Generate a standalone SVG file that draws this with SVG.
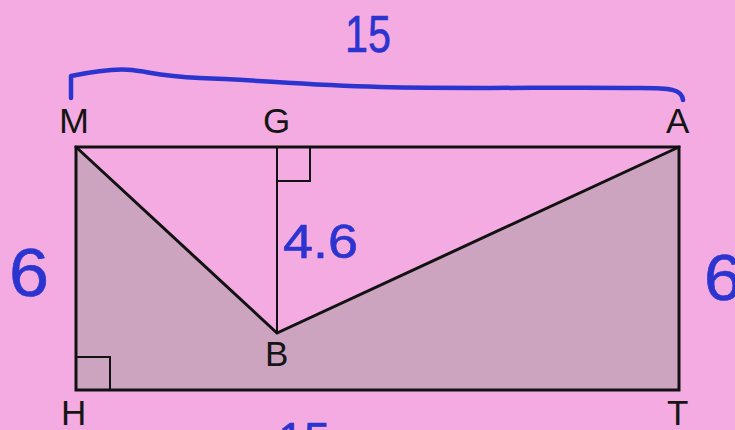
<svg xmlns="http://www.w3.org/2000/svg" width="735" height="430" viewBox="0 0 735 430">
  <style>
    .lbl { font-family: "Liberation Sans", Arial, sans-serif; font-size: 35px; fill: #151515; }
    .hand { font-family: "Liberation Sans", Arial, sans-serif; fill: #2c34d0; stroke: #2c34d0; stroke-width: 0.6; stroke-linejoin: round; }
    .edge { stroke: #121212; fill: none; stroke-linecap: round; stroke-linejoin: miter; }
  </style>
  <rect x="0" y="0" width="735" height="430" fill="#f4abe1"/>

  <g id="shade">
    <polygon points="76,147 277,333 679,147 679,390 76,390" fill="#cca4c0"/>
  </g>

  <g id="connectors">
    <rect class="edge" x="76" y="147" width="603" height="243" stroke-width="3"/>
    <polyline class="edge" points="76,147 277,333 679,147" stroke-width="3"/>
    <line class="edge" x1="277" y1="147" x2="277" y2="333" stroke-width="2"/>
    <polyline class="edge" points="277,181 310,181 310,147" stroke-width="2"/>
    <polyline class="edge" points="76,357 110,357 110,390" stroke-width="2"/>
    <path d="M71,98 L71,76 C90,72 115,68 132,70 C150,72 160,76 200,78 C260,80 300,85 380,87 C470,89 560,87 640,88 C670,88 682,89 683,100" fill="none" stroke="#2c34d0" stroke-width="4.5" stroke-linecap="round" stroke-linejoin="round"/>
  </g>

  <g id="node-M"><text class="lbl" x="59" y="133" textLength="30" lengthAdjust="spacingAndGlyphs">M</text></g>
  <g id="node-G"><text class="lbl" x="263" y="133">G</text></g>
  <g id="node-A"><text class="lbl" x="666" y="133">A</text></g>
  <g id="node-B"><text class="lbl" x="265" y="366">B</text></g>
  <g id="node-H"><text class="lbl" x="61" y="425">H</text></g>
  <g id="node-T"><text class="lbl" x="667" y="425">T</text></g>

  <g id="labels">
    <text class="hand" x="345" y="52" font-size="52" textLength="46" lengthAdjust="spacingAndGlyphs">15</text>
    <text class="hand" x="9" y="296" font-size="68" textLength="40" lengthAdjust="spacingAndGlyphs">6</text>
    <text class="hand" x="704" y="300" font-size="64" textLength="38" lengthAdjust="spacingAndGlyphs">6</text>
    <text class="hand" x="283" y="258" font-size="48" textLength="75" lengthAdjust="spacingAndGlyphs">4.6</text>
    <text class="hand" x="278" y="458" font-size="50" textLength="52" lengthAdjust="spacingAndGlyphs">15</text>
  </g>
</svg>
